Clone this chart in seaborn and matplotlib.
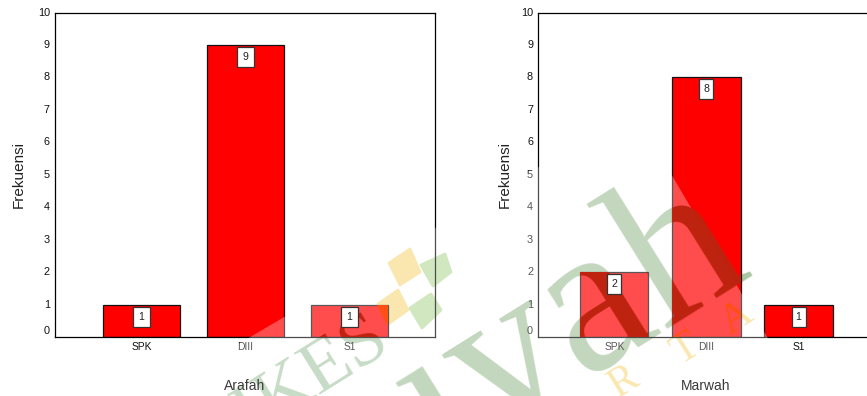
import matplotlib
matplotlib.use("Agg")
import matplotlib.pyplot as plt
from matplotlib.patches import Polygon, Rectangle
from matplotlib.transforms import Bbox, ScaledTranslation
import pandas as pd
import seaborn as sns

categories = ["SPK", "DIII", "S1"]
arafah_counts = [1, 9, 1]
marwah_counts = [2, 8, 1]
y_ticks = list(range(0, 11))

W, H = 867, 396
RED = "#ff0000"
VEIL_ALPHA = 0.3

sns.set_theme(style="white")
plt.rcParams["font.family"] = ["Liberation Sans", "DejaVu Sans"]

fig = plt.figure(figsize=(W / 100, H / 100), dpi=100, facecolor="white")


def fx(x):
    return x / W


def fy(y):
    return 1 - y / H


def under_veil(r, g, b):
    """Colour that reads as (r, g, b) once the translucent sheet lies over it."""
    keep = 1 - VEIL_ALPHA
    return tuple(max(0.0, (c / 255 - VEIL_ALPHA) / keep) for c in (r, g, b))


def draw_panel(ax, counts, xlabel, xlabel_px, ylabel_px):
    frame = pd.DataFrame({"kategori": categories, "frekuensi": counts})
    sns.barplot(data=frame, x="kategori", y="frekuensi", color=RED, saturation=1,
                width=0.74, edgecolor="#111111", linewidth=0.9, ax=ax)
    ax.patch.set_alpha(0)
    ax.set_xlim(-0.83, 2.82)
    ax.set_ylim(0, 10)
    ax.set_xlabel("")
    ax.set_ylabel("")
    ax.set_yticks(y_ticks)
    ax.set_yticklabels([str(v) for v in y_ticks], fontsize=7.8, color="#111111")
    ax.set_xticks(range(len(categories)))
    ax.set_xticklabels(categories, fontsize=7.4, color="#111111")
    ax.tick_params(axis="both", length=1.8, width=1.5, color="black", pad=1.8)
    for label in ax.get_yticklabels():
        lift = 7 if label.get_text() == "0" else 1
        label.set_transform(label.get_transform()
                            + ScaledTranslation(0, lift / 100, fig.dpi_scale_trans))
    for spine in ax.spines.values():
        spine.set_visible(True)
        spine.set_color("black")
        spine.set_linewidth(0.9)
    fig.text(fx(xlabel_px), fy(386), xlabel, ha="center", va="center",
             fontsize=10, color="#3a3a3a", zorder=22)
    fig.text(fx(ylabel_px), fy(175), "Frekuensi", rotation=90, ha="center",
             va="center", fontsize=11, color="#222222", zorder=22)


left = fig.add_axes([fx(55), fy(337), (435 - 55) / W, (337 - 12.5) / H])
right = fig.add_axes([fx(538), fy(337), (874 - 538) / W, (337 - 12.5) / H])
draw_panel(left, arafah_counts, "Arafah", 245, 19)
draw_panel(right, marwah_counts, "Marwah", 706, 505)

bar_boxes = []
for ax in (left, right):
    bar_boxes.extend(bar.get_window_extent() for bar in ax.patches)

# Translucent sheet of the letterhead
veil = Polygon([(fx(634), fy(111)), (fx(150), fy(396)), (fx(802), fy(396))],
               closed=True, transform=fig.transFigure, fc="white", ec="none",
               alpha=VEIL_ALPHA, zorder=20)
fig.add_artist(veil)


def stamp(x, y, text, size, color, zorder, rotation=32, ha="left", clip=None):
    artist = fig.text(fx(x), fy(y), text, fontsize=size, color=color, rotation=rotation,
                      rotation_mode="anchor", family="Liberation Serif", ha=ha,
                      va="baseline", zorder=zorder)
    if clip is not None:
        artist.set_clip_on(True)
        artist.set_clip_box(clip)
    return artist


def stamp_layers(x, y, text, size, paper_rgb, overlap_color, crossed=(), ha="left"):
    """Pale letter on the paper, a deeper tint on the bars it crosses."""
    stamp(x, y, text, size, under_veil(*paper_rgb), -1, ha=ha)
    for index in crossed:
        stamp(x, y, text, size, overlap_color, 21, ha=ha,
              clip=Bbox(bar_boxes[index].get_points()))


def leaf(points, paper_rgb, overlap_color, crossed=()):
    corners = [(fx(px), fy(py)) for px, py in points]
    fig.add_artist(Polygon(corners, closed=True, transform=fig.transFigure,
                           fc=under_veil(*paper_rgb), ec=under_veil(*paper_rgb),
                           lw=2, joinstyle="round", zorder=-1))
    for index in crossed:
        top = Polygon(corners, closed=True, transform=fig.transFigure, fc=overlap_color,
                      ec=overlap_color, lw=2, joinstyle="round", zorder=21)
        fig.add_artist(top)
        top.set_clip_on(True)
        top.set_clip_box(Bbox(bar_boxes[index].get_points()))


GREEN = (195, 215, 190)
PALE_GREEN = (200, 220, 198)
YELLOW = (251, 232, 176)
LEAF_GREEN = (208, 232, 192)
DEEP = "#be2310"
ORANGE = "#ff5014"

leaf([(410, 249), (420, 272), (400, 285), (389, 263)], YELLOW, ORANGE)
leaf([(445, 254), (451, 272), (433, 286), (421, 265)], LEAF_GREEN, DEEP)
leaf([(398, 290), (408, 310), (388, 324), (378, 304)], YELLOW, ORANGE, crossed=(2,))
leaf([(431, 294), (441, 310), (422, 328), (410, 308)], LEAF_GREEN, DEEP)

stamp_layers(392, 347, "STIKES", 54, PALE_GREEN, DEEP, crossed=(2,), ha="right")
stamp_layers(755, 271, "\u0131yah", 155, GREEN, DEEP, crossed=(3, 4), ha="right")
stamp_layers(618, 398, "R", 30, YELLOW, ORANGE)
stamp_layers(680, 365, "T", 30, YELLOW, ORANGE, crossed=(4,))
stamp_layers(730, 335, "A", 30, YELLOW, ORANGE, crossed=(4,))

# White value tags hang just under the top edge of each bar
tag_width = {id(left): 17, id(right): 14}
for ax, counts in ((left, arafah_counts), (right, marwah_counts)):
    for bar, value in zip(ax.patches, counts):
        box = bar.get_window_extent()
        cx = (box.x0 + box.x1) / 2
        cy = box.y1 - 12
        w = tag_width[id(ax)]
        fig.add_artist(Rectangle((cx - w / 2, cy - 10), w, 20, transform=None, fc="white",
                                 ec="#333333", lw=0.9, zorder=22))
        fig.text(cx / W, cy / H, str(value), ha="center", va="center", fontsize=7.6,
                 color="#222222", zorder=23)

fig.savefig("out.png", dpi=100)
